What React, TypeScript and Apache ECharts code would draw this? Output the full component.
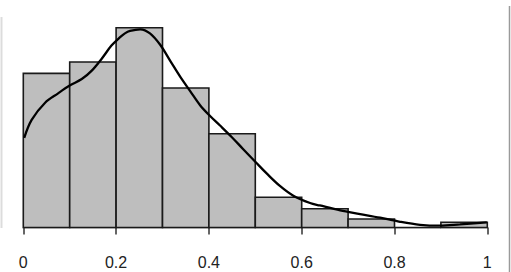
import React, { useEffect, useRef } from "react";
import * as echarts from "echarts";

// Histogram bins (left edges, width 0.1) and densities
const binStarts = [0, 0.1, 0.2, 0.3, 0.4, 0.5, 0.6, 0.7, 0.8, 0.9];
const binWidth = 0.1;
const densities = [1.89, 2.03, 2.45, 1.71, 1.15, 0.37, 0.23, 0.105, 0, 0.064];

// Kernel density curve points
const curveX = [0.002, 0.018, 0.047, 0.075, 0.1, 0.126, 0.147, 0.169, 0.19, 0.208, 0.219, 0.23, 0.252, 0.273, 0.295, 0.317, 0.338, 0.36, 0.381, 0.402, 0.424, 0.449, 0.474, 0.501, 0.525, 0.553, 0.582, 0.618, 0.639, 0.683, 0.726, 0.769, 0.812, 0.855, 0.898, 0.941, 0.999];
const curveY = [1.1, 1.32, 1.53, 1.645, 1.74, 1.82, 1.92, 2.07, 2.23, 2.33, 2.38, 2.41, 2.43, 2.38, 2.24, 2.04, 1.85, 1.67, 1.5, 1.37, 1.25, 1.11, 0.96, 0.8, 0.66, 0.51, 0.39, 0.3, 0.27, 0.21, 0.165, 0.12, 0.07, 0.033, 0.022, 0.038, 0.064];

const tickLabels = ["0", "0.2", "0.4", "0.6", "0.8", "1"];

export default function App() {
  const ref = useRef<HTMLDivElement>(null);
  useEffect(() => {
    if (!ref.current) return;
    const chart = echarts.init(ref.current, undefined, { renderer: "svg" });
    const barData = binStarts.map((s, i) => [s, s + binWidth, densities[i]]);
    const lineData = curveX.map((x, i) => [x, curveY[i]]);
    chart.setOption({
      animation: false,
      backgroundColor: "#ffffff",
      grid: { left: 23.3, right: 23.7, top: 23.6, bottom: 44.5 },
      xAxis: {
        type: "value",
        min: 0,
        max: 1,
        interval: 0.2,
        offset: 10.5,
        splitLine: { show: false },
        axisLine: { show: true, lineStyle: { color: "#c8c8c8", width: 1.5 } },
        axisTick: { show: true, length: 7, lineStyle: { color: "#333", width: 1.5 } },
        axisLabel: {
          margin: 16,
          fontSize: 16,
          color: "#222",
          fontFamily: "'Liberation Sans', Arial, sans-serif",
          formatter: (v: number) => tickLabels[Math.round(v / 0.2)] ?? "",
        },
      },
      yAxis: {
        type: "value",
        min: 0,
        max: 2.5,
        show: false,
        splitLine: { show: false },
      },
      series: [
        {
          type: "custom",
          data: barData,
          encode: { x: [0, 1], y: 2 },
          renderItem: (params: any, api: any) => {
            const p0 = api.coord([api.value(0), 0]);
            const p1 = api.coord([api.value(1), api.value(2)]);
            return {
              type: "rect",
              shape: { x: p0[0], y: p1[1], width: p1[0] - p0[0], height: p0[1] - p1[1] },
              style: { fill: "#bebebe", stroke: "#1a1a1a", lineWidth: 1.6 },
            };
          },
          z: 1,
        },
        {
          type: "line",
          data: lineData,
          smooth: 0.35,
          showSymbol: false,
          symbol: "none",
          lineStyle: { color: "#000", width: 2.3 },
          z: 2,
        },
      ],
      graphic: [
        { type: "line", shape: { x1: 1.5, y1: 17, x2: 1.5, y2: 228 }, style: { stroke: "#dcdcdc", lineWidth: 2 } },
        { type: "line", shape: { x1: 509.5, y1: 6, x2: 509.5, y2: 272 }, style: { stroke: "#9a9a9a", lineWidth: 1.5 } },
      ],
    });
    return () => chart.dispose();
  }, []);
  return <div ref={ref} style={{ position: "fixed", left: 0, top: 0, width: 511, height: 272 }} />;
}
